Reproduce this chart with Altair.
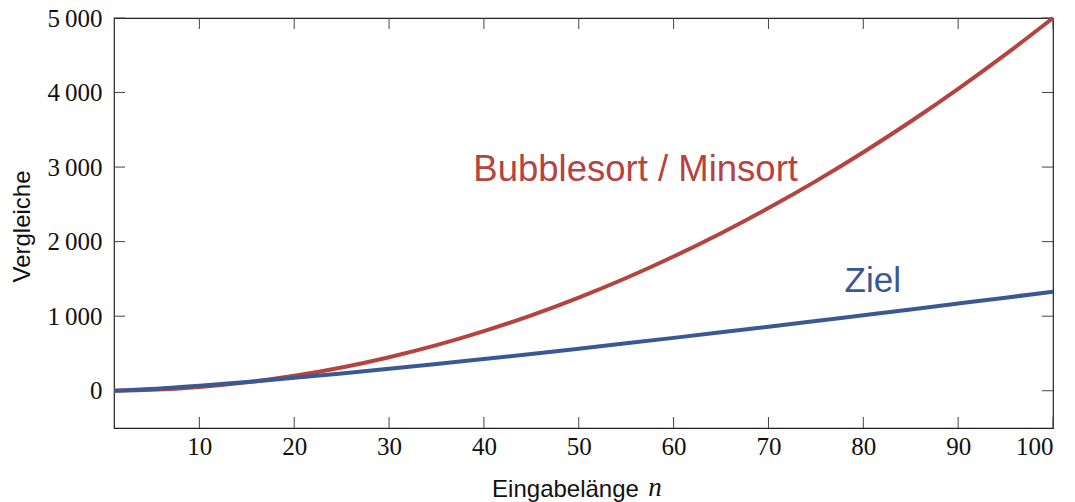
import altair as alt
import pandas as pd

# data
n_vals = [1, 5, 10, 15, 20, 25, 30, 35, 40, 45, 50, 55, 60, 65, 70, 75, 80, 85, 90, 95, 100]
bubble = [0.5, 12, 50, 112, 200, 312, 450, 612, 800, 1012, 1250, 1512, 1800, 2112, 2450,
          2812, 3200, 3612, 4050, 4512, 5000]
ziel = [0, 23, 66, 117, 173, 232, 294, 359, 426, 494, 564, 636, 709, 783, 858, 934,
        1012, 1090, 1169, 1248, 1329]
x_ticks = [10, 20, 30, 40, 50, 60, 70, 80, 90, 100]
y_ticks = [0, 1000, 2000, 3000, 4000, 5000]

labels = ["Bubblesort / Minsort", "Ziel"]
label_n = [56.0, 81.0]
label_v = [2820, 1322]
label_size = [36.5, 35]

RED = "#b5433f"
BLUE = "#3a5892"
W, H = 939, 410

df = pd.DataFrame({"n": n_vals, "bubble": bubble, "ziel": ziel})
xt = pd.DataFrame({"t": x_ticks})
yt = pd.DataFrame({"t": y_ticks})
lab = pd.DataFrame({"text": labels, "n": label_n, "v": label_v, "c": [RED, BLUE],
                    "s": label_size})

xs = alt.Scale(domain=[1, 100], nice=False, zero=False)
ys = alt.Scale(domain=[-500, 5000], nice=False, zero=False)

x_axis = alt.Axis(values=x_ticks, grid=False, ticks=False, domain=False,
                  labelFont="Liberation Serif", labelFontSize=25, labelColor="#111",
                  labelPadding=6, title="Eingabelänge", titleFont="Liberation Sans",
                  titleFontSize=24, titleFontWeight="normal", titleColor="#111",
                  titleX=451, titleY=68, titleBaseline="alphabetic", titleAlign="center")
y_axis = alt.Axis(values=y_ticks, grid=False, ticks=False, domain=False,
                  labelFont="Liberation Serif", labelFontSize=25, labelColor="#111",
                  labelPadding=12,
                  labelExpr="replace(format(datum.value, ','), ',', '\u2009')",
                  title="Vergleiche", titleFont="Liberation Sans", titleFontSize=24,
                  titleFontWeight="normal", titleColor="#111",
                  titleX=-92, titleY=208, titleAngle=-90, titleAlign="center",
                  titleBaseline="middle")

red_line = alt.Chart(df).mark_line(color=RED, strokeWidth=4, interpolate="monotone").encode(
    x=alt.X("n:Q", scale=xs, axis=x_axis),
    y=alt.Y("bubble:Q", scale=ys, axis=y_axis),
)
blue_line = alt.Chart(df).mark_line(color=BLUE, strokeWidth=4, interpolate="monotone").encode(
    x=alt.X("n:Q", scale=xs),
    y=alt.Y("ziel:Q", scale=ys),
)

tick_style = dict(color="#444", strokeWidth=1)
xb = alt.Chart(xt).mark_rule(**tick_style).encode(
    x=alt.X("t:Q", scale=xs), y=alt.value(H), y2=alt.value(H - 11))
xtop = alt.Chart(xt).mark_rule(**tick_style).encode(
    x=alt.X("t:Q", scale=xs), y=alt.value(0), y2=alt.value(11))
yl = alt.Chart(yt).mark_rule(**tick_style).encode(
    y=alt.Y("t:Q", scale=ys), x=alt.value(0), x2=alt.value(11))
yr = alt.Chart(yt).mark_rule(**tick_style).encode(
    y=alt.Y("t:Q", scale=ys), x=alt.value(W - 11), x2=alt.value(W))

text = alt.Chart(lab).mark_text(font="Liberation Sans", baseline="alphabetic",
                                align="center").encode(
    x=alt.X("n:Q", scale=xs), y=alt.Y("v:Q", scale=ys),
    text="text:N", color=alt.Color("c:N", scale=None),
    size=alt.Size("s:Q", scale=None))

n_italic = alt.Chart(pd.DataFrame({"s": ["n"]})).mark_text(
    font="Liberation Serif", fontStyle="italic", fontSize=27, baseline="alphabetic",
    align="center", color="#111").encode(
    x=alt.value(541), y=alt.value(H + 68), text="s:N")

chart = alt.layer(xb, xtop, yl, yr, red_line, blue_line, text, n_italic).properties(
    width=W, height=H,
    autosize=alt.AutoSizeParams(type="none"),
    padding={"left": 106, "top": 10, "right": 14, "bottom": 74},
).configure_view(stroke="#222", strokeWidth=1.2)

chart.save("out.html", embed_options={"renderer": "svg", "actions": False})
